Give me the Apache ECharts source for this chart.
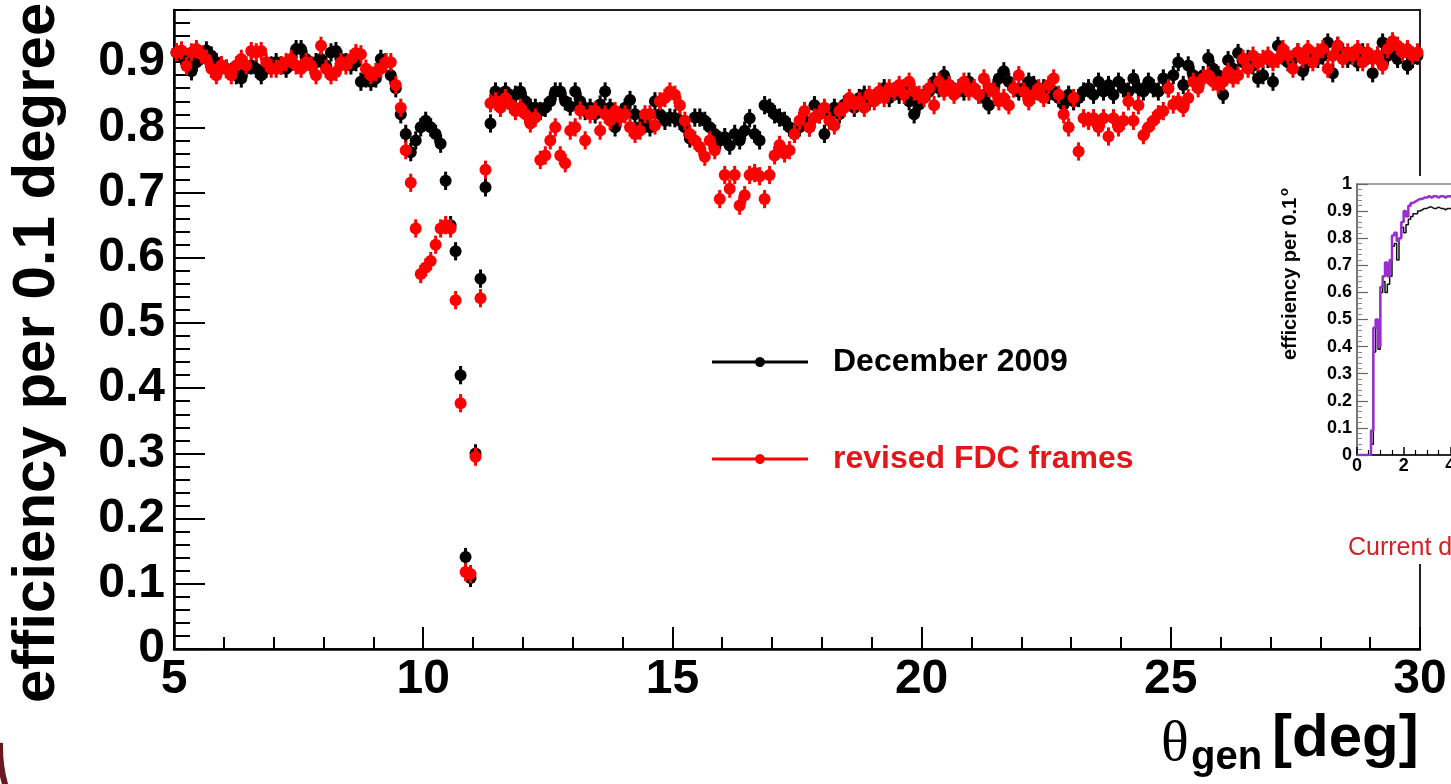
<!DOCTYPE html>
<html>
<head>
<meta charset="utf-8">
<script src="https://cdn.jsdelivr.net/npm/echarts@6/dist/echarts.min.js"></script>
<style>
html,body{margin:0;padding:0;background:#fff;}
#chart{width:1451px;height:784px;}
</style>
</head>
<body>
<div id="chart"></div>
<script>
// ---------------- data ----------------
const THETA_MIN = 5;          // first bin lower edge [deg]
const BIN_WIDTH = 0.1;        // bin width [deg]
const X_TICKS = [5, 10, 15, 20, 25, 30];
const Y_TICKS = [0, 0.1, 0.2, 0.3, 0.4, 0.5, 0.6, 0.7, 0.8, 0.9];
const Y_MAX = 0.98;
const EFF_ERR = 0.014;        // typical error bar half-height

// efficiency per 0.1 degree, December 2009 geometry (bins 5.0-5.1 ... 29.9-30.0)
const DEC2009 = [
  0.915, 0.910, 0.900, 0.886, 0.900, 0.910, 0.918, 0.910, 0.900, 0.895,
  0.890, 0.885, 0.880, 0.875, 0.890, 0.895, 0.890, 0.880, 0.890, 0.895,
  0.900, 0.895, 0.890, 0.900, 0.920, 0.920, 0.905, 0.895, 0.900, 0.905,
  0.895, 0.915, 0.917, 0.905, 0.900, 0.895, 0.900, 0.870, 0.875, 0.870,
  0.875, 0.905, 0.900, 0.880, 0.860, 0.820, 0.790, 0.762, 0.780, 0.800,
  0.810, 0.800, 0.790, 0.775, 0.718, 0.650, 0.610, 0.420, 0.141, 0.109,
  0.300, 0.568, 0.708, 0.806, 0.855, 0.840, 0.855, 0.845, 0.850, 0.855,
  0.840, 0.830, 0.830, 0.825, 0.830, 0.840, 0.855, 0.855, 0.840, 0.832,
  0.855, 0.840, 0.825, 0.830, 0.820, 0.835, 0.855, 0.830, 0.800, 0.815,
  0.830, 0.842, 0.820, 0.800, 0.805, 0.800, 0.840, 0.820, 0.810, 0.815,
  0.814, 0.810, 0.800, 0.783, 0.815, 0.815, 0.810, 0.800, 0.790, 0.780,
  0.785, 0.772, 0.790, 0.780, 0.795, 0.814, 0.790, 0.780, 0.834, 0.830,
  0.820, 0.815, 0.810, 0.800, 0.790, 0.800, 0.810, 0.800, 0.834, 0.820,
  0.790, 0.820, 0.830, 0.820, 0.835, 0.840, 0.830, 0.845, 0.850, 0.840,
  0.845, 0.850, 0.860, 0.845, 0.855, 0.850, 0.860, 0.840, 0.820, 0.835,
  0.850, 0.855, 0.870, 0.860, 0.880, 0.865, 0.855, 0.860, 0.855, 0.870,
  0.860, 0.850, 0.845, 0.834, 0.860, 0.875, 0.886, 0.870, 0.860, 0.855,
  0.860, 0.870, 0.865, 0.855, 0.860, 0.850, 0.855, 0.845, 0.835, 0.850,
  0.840, 0.845, 0.855, 0.860, 0.850, 0.870, 0.855, 0.865, 0.850, 0.870,
  0.860, 0.855, 0.875, 0.860, 0.855, 0.870, 0.860, 0.855, 0.875, 0.860,
  0.880, 0.900, 0.865, 0.895, 0.880, 0.870, 0.880, 0.906, 0.890, 0.880,
  0.850, 0.903, 0.890, 0.914, 0.900, 0.905, 0.895, 0.875, 0.880, 0.905,
  0.870, 0.925, 0.910, 0.900, 0.905, 0.915, 0.886, 0.900, 0.910, 0.905,
  0.910, 0.930, 0.883, 0.925, 0.915, 0.905, 0.910, 0.900, 0.915, 0.910,
  0.883, 0.910, 0.930, 0.910, 0.920, 0.905, 0.915, 0.895, 0.905, 0.910
];

// efficiency per 0.1 degree, revised FDC frames
const REVISED = [
  0.915, 0.918, 0.894, 0.915, 0.920, 0.912, 0.905, 0.890, 0.880, 0.895,
  0.890, 0.880, 0.895, 0.905, 0.895, 0.917, 0.915, 0.917, 0.900, 0.890,
  0.890, 0.895, 0.900, 0.905, 0.895, 0.890, 0.900, 0.895, 0.880, 0.925,
  0.890, 0.880, 0.885, 0.900, 0.895, 0.905, 0.914, 0.912, 0.890, 0.880,
  0.885, 0.890, 0.900, 0.900, 0.865, 0.830, 0.765, 0.715, 0.645, 0.575,
  0.585, 0.595, 0.620, 0.645, 0.650, 0.645, 0.535, 0.377, 0.118, 0.115,
  0.295, 0.538, 0.735, 0.837, 0.840, 0.830, 0.845, 0.835, 0.825, 0.830,
  0.820, 0.806, 0.815, 0.750, 0.757, 0.780, 0.800, 0.757, 0.745, 0.795,
  0.800, 0.826, 0.780, 0.820, 0.826, 0.795, 0.820, 0.810, 0.825, 0.815,
  0.820, 0.800, 0.790, 0.795, 0.820, 0.820, 0.803, 0.840, 0.845, 0.855,
  0.850, 0.834, 0.810, 0.790, 0.780, 0.770, 0.755, 0.780, 0.765, 0.690,
  0.727, 0.706, 0.727, 0.680, 0.696, 0.727, 0.730, 0.725, 0.690, 0.727,
  0.757, 0.773, 0.760, 0.765, 0.790, 0.810, 0.825, 0.800, 0.815, 0.820,
  0.830, 0.810, 0.803, 0.825, 0.830, 0.845, 0.835, 0.840, 0.830, 0.850,
  0.840, 0.855, 0.845, 0.860, 0.855, 0.865, 0.850, 0.870, 0.855, 0.850,
  0.845, 0.860, 0.834, 0.870, 0.855, 0.865, 0.850, 0.860, 0.870, 0.855,
  0.860, 0.850, 0.875, 0.860, 0.855, 0.840, 0.845, 0.834, 0.860, 0.880,
  0.855, 0.840, 0.850, 0.860, 0.845, 0.865, 0.875, 0.850, 0.820, 0.800,
  0.845, 0.763, 0.814, 0.810, 0.814, 0.800, 0.814, 0.786, 0.814, 0.800,
  0.810, 0.840, 0.810, 0.834, 0.788, 0.800, 0.810, 0.820, 0.825, 0.860,
  0.835, 0.840, 0.830, 0.845, 0.870, 0.860, 0.875, 0.880, 0.870, 0.865,
  0.870, 0.885, 0.875, 0.880, 0.905, 0.890, 0.910, 0.900, 0.905, 0.910,
  0.900, 0.905, 0.920, 0.910, 0.890, 0.915, 0.905, 0.920, 0.900, 0.915,
  0.920, 0.890, 0.910, 0.925, 0.905, 0.915, 0.910, 0.920, 0.900, 0.915,
  0.905, 0.910, 0.895, 0.920, 0.932, 0.925, 0.915, 0.920, 0.910, 0.915
];

// inset ("Current design") histogram, bins of 0.1 starting at 0
const INSET_BIN_WIDTH = 0.1;
const INSET_X_TICKS = [0, 2, 4, 6, 8, 10, 12];
const INSET_BLACK = [
  0, 0, 0, 0, 0, 0, 0.04, 0.38, 0.47, 0.39,
  0.60, 0.64, 0.60, 0.63, 0.66, 0.77, 0.78, 0.72, 0.80, 0.84,
  0.82, 0.85, 0.87, 0.88, 0.89, 0.89, 0.90, 0.905, 0.91, 0.91,
  0.915, 0.915, 0.91, 0.91, 0.915, 0.91, 0.91, 0.905, 0.91, 0.91,
  0.905, 0.91
];
const INSET_PURPLE = [
  0, 0, 0, 0, 0, 0, 0.09, 0.47, 0.50, 0.40,
  0.62, 0.66, 0.71, 0.66, 0.72, 0.81, 0.82, 0.79, 0.80, 0.86,
  0.90, 0.88, 0.92, 0.93, 0.935, 0.94, 0.945, 0.945, 0.95, 0.95,
  0.955, 0.95, 0.955, 0.955, 0.95, 0.955, 0.955, 0.95, 0.955, 0.955,
  0.95, 0.955
];

const SERIES_NAMES = ['December 2009', 'revised FDC frames'];

// ---------------- build ----------------
const FONT = 'Liberation Sans';
const BLACK = '#000000';
const RED = '#ff0000';
const RED_TEXT = '#e4161b';

function toPoints(vals) {
  return vals.map((v, i) => [Math.round((THETA_MIN + BIN_WIDTH * (i + 0.5)) * 100) / 100, v]);
}
function toSteps(vals) {
  const pts = vals.map((v, i) => [Math.round(i * INSET_BIN_WIDTH * 100) / 100, v]);
  pts.push([Math.round(vals.length * INSET_BIN_WIDTH * 100) / 100, vals[vals.length - 1]]);
  return pts;
}
function renderErr(color) {
  return function (params, api) {
    const x = api.value(0), y = api.value(1);
    const c = api.coord([x, y]);
    const lo = api.coord([x, y - EFF_ERR]);
    const hi = api.coord([x, y + EFF_ERR]);
    return {
      type: 'group',
      children: [
        { type: 'line', shape: { x1: c[0], y1: lo[1], x2: c[0], y2: hi[1] }, style: { stroke: color, lineWidth: 3 } },
        { type: 'circle', shape: { cx: c[0], cy: c[1], r: 6 }, style: { fill: color } }
      ]
    };
  };
}

const LEGEND_ICON = 'path://M0,3.5L43.23,3.5A5,5,0,0,1,52.77,3.5L96,3.5L96,6.5L52.77,6.5A5,5,0,0,1,43.23,6.5L0,6.5Z';

const chart = echarts.init(document.getElementById('chart'), null, { renderer: 'canvas' });

const option = {
  animation: false,
  backgroundColor: '#ffffff',
  grid: [
    { left: 174, top: 10, width: 1246, height: 639, show: true, borderColor: '#222', borderWidth: 2,
      backgroundColor: 'transparent', z: 0, containLabel: false, outerBoundsMode: 'none' },
    { left: 1357, top: 184, width: 280, height: 271, show: true, borderColor: '#888', borderWidth: 1.5,
      backgroundColor: 'transparent', z: 10, containLabel: false, outerBoundsMode: 'none' }
  ],
  xAxis: [
    {
      gridIndex: 0, type: 'value',
      min: X_TICKS[0], max: X_TICKS[X_TICKS.length - 1], interval: X_TICKS[1] - X_TICKS[0],
      axisLine: { show: true, onZero: false, lineStyle: { color: '#000', width: 2.5 } },
      axisTick: { show: true, inside: true, length: 22, lineStyle: { color: '#000', width: 2 } },
      minorTick: { show: true, splitNumber: 5, length: 12, lineStyle: { color: '#000', width: 2 } },
      axisLabel: { show: true, margin: 7, fontSize: 48, fontWeight: 'bold', fontFamily: FONT, color: '#000' },
      splitLine: { show: false }, minorSplitLine: { show: false }
    },
    {
      gridIndex: 1, type: 'value', z: 10,
      min: INSET_X_TICKS[0], max: INSET_X_TICKS[INSET_X_TICKS.length - 1], interval: INSET_X_TICKS[1] - INSET_X_TICKS[0],
      axisLine: { show: true, onZero: false, lineStyle: { color: '#000', width: 1.5 } },
      axisTick: { show: true, inside: true, length: 8, lineStyle: { color: '#000', width: 1.5 } },
      minorTick: { show: true, splitNumber: 4, length: 5, lineStyle: { color: '#000', width: 1.2 } },
      axisLabel: { show: true, margin: 2, fontSize: 18, fontWeight: 'bold', fontFamily: FONT, color: '#000' },
      splitLine: { show: false }
    }
  ],
  yAxis: [
    {
      gridIndex: 0, type: 'value',
      min: Y_TICKS[0], max: Y_MAX, interval: Y_TICKS[1] - Y_TICKS[0],
      axisLine: { show: true, onZero: false, lineStyle: { color: '#000', width: 2.5 } },
      axisTick: { show: true, inside: true, length: 31, lineStyle: { color: '#000', width: 2 } },
      minorTick: { show: false },
      axisLabel: { show: true, showMaxLabel: false, margin: 9, fontSize: 48, fontWeight: 'bold', fontFamily: FONT, color: '#000' },
      splitLine: { show: false }
    },
    {
      gridIndex: 0, type: 'value', position: 'left', offset: 0,
      min: Y_TICKS[0], max: Y_MAX, interval: (Y_TICKS[1] - Y_TICKS[0]) / 5,
      axisLine: { show: false },
      axisTick: { show: true, inside: true, length: 16, lineStyle: { color: '#000', width: 2 } },
      axisLabel: { show: false },
      splitLine: { show: false }
    },
    {
      gridIndex: 1, type: 'value', z: 10,
      min: 0, max: 1, interval: 0.1,
      axisLine: { show: true, onZero: false, lineStyle: { color: '#666', width: 1.5 } },
      axisTick: { show: true, inside: true, length: 11, lineStyle: { color: '#666', width: 1.2 } },
      minorTick: { show: true, splitNumber: 5, length: 5, lineStyle: { color: '#888', width: 1 } },
      axisLabel: { show: true, margin: 5, fontSize: 18, fontWeight: 'bold', fontFamily: FONT, color: '#000' },
      splitLine: { show: false }
    }
  ],
  legend: {
    left: 712, top: 344, orient: 'vertical', padding: 0,
    itemWidth: 96, itemHeight: 10, itemGap: 61,
    selectedMode: false,
    textStyle: { fontSize: 32, fontWeight: 'bold', fontFamily: FONT, lineHeight: 36, padding: [0, 0, 0, 20] },
    data: [
      { name: SERIES_NAMES[0], icon: LEGEND_ICON, textStyle: { color: BLACK } },
      { name: SERIES_NAMES[1], icon: LEGEND_ICON, textStyle: { color: RED_TEXT } }
    ]
  },
  series: [
    {
      name: SERIES_NAMES[0], type: 'custom', xAxisIndex: 0, yAxisIndex: 0, z: 2,
      itemStyle: { color: BLACK }, encode: { x: 0, y: 1 },
      renderItem: renderErr(BLACK), data: toPoints(DEC2009)
    },
    {
      name: SERIES_NAMES[1], type: 'custom', xAxisIndex: 0, yAxisIndex: 0, z: 3,
      itemStyle: { color: RED }, encode: { x: 0, y: 1 },
      renderItem: renderErr(RED), data: toPoints(REVISED)
    },
    {
      name: 'inset current', type: 'line', xAxisIndex: 1, yAxisIndex: 2, z: 11,
      step: 'end', showSymbol: false, silent: true,
      lineStyle: { color: '#111', width: 1.5 }, itemStyle: { color: '#111' },
      data: toSteps(INSET_BLACK)
    },
    {
      name: 'inset revised', type: 'line', xAxisIndex: 1, yAxisIndex: 2, z: 12,
      step: 'end', showSymbol: false, silent: true,
      lineStyle: { color: '#9a2fd0', width: 2.5 }, itemStyle: { color: '#9a2fd0' },
      data: toSteps(INSET_PURPLE)
    }
  ],
  graphic: {
    elements: [
      { type: 'rect', z: 5, silent: true, shape: { x: 1273, y: 176, width: 178, height: 388 }, style: { fill: '#ffffff' } },
      // main y-axis title
      { type: 'text', z: 20, x: 37, y: 703, rotation: Math.PI / 2,
        style: { text: 'efficiency per 0.1 degree', fontSize: 60, fontWeight: 'bold', fontFamily: FONT, fill: '#000',
                 align: 'left', textAlign: 'left', verticalAlign: 'middle', textVerticalAlign: 'middle' } },
      // main x-axis title pieces
      { type: 'text', z: 20, x: 1161, y: 745,
        style: { text: 'θ', fontSize: 58, fontFamily: 'Liberation Serif', fill: '#000',
                 align: 'left', textAlign: 'left', verticalAlign: 'middle', textVerticalAlign: 'middle' } },
      { type: 'text', z: 20, x: 1191, y: 758,
        style: { text: 'gen', fontSize: 40, fontWeight: 'bold', fontFamily: FONT, fill: '#000',
                 align: 'left', textAlign: 'left', verticalAlign: 'middle', textVerticalAlign: 'middle' } },
      { type: 'text', z: 20, x: 1272, y: 739,
        style: { text: '[deg]', fontSize: 60, fontWeight: 'bold', fontFamily: FONT, fill: '#000',
                 align: 'left', textAlign: 'left', verticalAlign: 'middle', textVerticalAlign: 'middle' } },
      // inset y title
      { type: 'text', z: 20, x: 1290, y: 360, rotation: Math.PI / 2,
        style: { text: 'efficiency per 0.1', fontSize: 20, fontWeight: 'bold', fontFamily: FONT, fill: '#000',
                 align: 'left', textAlign: 'left', verticalAlign: 'middle', textVerticalAlign: 'middle' } },
      { type: 'text', z: 20, x: 1284, y: 196, rotation: Math.PI / 2,
        style: { text: 'o', fontSize: 13, fontWeight: 'bold', fontFamily: FONT, fill: '#000',
                 align: 'left', textAlign: 'left', verticalAlign: 'middle', textVerticalAlign: 'middle' } },
      // inset caption
      { type: 'text', z: 20, x: 1348, y: 548,
        style: { text: 'Current design', fontSize: 25, fontFamily: FONT, fill: '#d42020',
                 align: 'left', textAlign: 'left', verticalAlign: 'middle', textVerticalAlign: 'middle' } },
      // slide decoration, bottom-left
      { type: 'arc', z: 1, silent: true, shape: { cx: 139, cy: 747, r: 139, startAngle: 2.65, endAngle: Math.PI + 0.03 },
        style: { stroke: '#6b1822', lineWidth: 6, fill: null } }
    ]
  }
};

chart.setOption(option);
</script>
</body>
</html>
